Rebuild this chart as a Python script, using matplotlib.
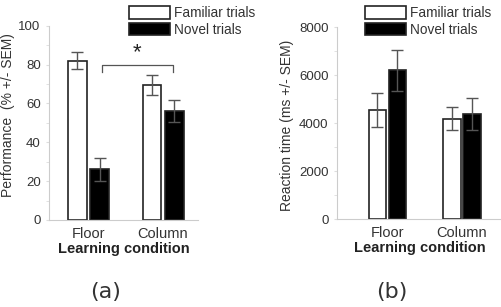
import numpy as np
from matplotlib import pyplot as plt
from matplotlib.ticker import MultipleLocator

plt.rcParams["font.family"] = ["Liberation Sans", "DejaVu Sans"]

conditions = ["Floor", "Column"]
seriesNames = ["Familiar trials", "Novel trials"]

performance = {"Familiar trials": [82, 69.5], "Novel trials": [26, 56]}
performanceSem = {"Familiar trials": [4.5, 5.2], "Novel trials": [6, 5.7]}

reactionTime = {"Familiar trials": [4550, 4180], "Novel trials": [6200, 4370]}
reactionTimeSem = {"Familiar trials": [700, 480], "Novel trials": [850, 660]}

TEXT = "#333333"


def drawBars(axis, values, sems, offset=0.15, width=0.25):
    centers = np.arange(1, len(conditions) + 1)
    for i, name in enumerate(seriesNames):
        face = "white" if i == 0 else "black"
        axis.bar(centers + (i - 0.5) * 2 * offset, values[name], width,
                 yerr=sems[name], color=face, edgecolor="#222222", linewidth=1.2,
                 label=name, error_kw=dict(ecolor="#555555", elinewidth=1.0, capsize=4, capthick=1.0))
    axis.set_xticks(centers)
    axis.set_xticklabels(conditions, fontsize=10.5, color=TEXT)
    axis.set_xlabel("Learning condition", fontsize=10.5, fontweight="bold", color="#222222", labelpad=1)


def styleAxis(axis):
    for side in ["top", "right"]:
        axis.spines[side].set_visible(False)
    axis.spines["left"].set_color("#cccccc")
    axis.spines["bottom"].set_color("#cccccc")
    axis.tick_params(axis="x", length=0, pad=5)
    axis.tick_params(axis="y", which="both", colors="#dddddd", labelcolor=TEXT, labelsize=9.5, length=2.5)


def addLegend(axis, left):
    axis.legend(loc="upper left", bbox_to_anchor=(left, 1.003), bbox_transform=figure.transFigure,
                frameon=False, fontsize=9.8, handlelength=3.0, handleheight=1.05,
                handletextpad=0.3, labelspacing=0.2, borderpad=0, labelcolor=TEXT)


figure = plt.figure(figsize=(5.02, 3.07), dpi=100)

axisA = figure.add_axes([0.0976, 0.2834, 0.297, 0.633])
drawBars(axisA, performance, performanceSem)
axisA.set_xlim(0.47, 2.47)
axisA.set_ylim(0, 100)
axisA.yaxis.set_major_locator(MultipleLocator(20))
axisA.yaxis.set_minor_locator(MultipleLocator(10))
axisA.set_ylabel("Performance  (% +/- SEM)", fontsize=10, color=TEXT)
axisA.yaxis.set_label_coords(-0.225, 0.54)
styleAxis(axisA)
axisA.plot([1.18, 1.18, 2.13, 2.13], [76, 80, 80, 76], color="#555555", linewidth=0.9)
axisA.text(1.655, 80.5, "*", ha="center", va="bottom", fontsize=16, color="#222222")
addLegend(axisA, 0.243)

axisB = figure.add_axes([0.671, 0.2866, 0.329, 0.625])
drawBars(axisB, reactionTime, reactionTimeSem, offset=0.135, width=0.235)
axisB.set_xlim(0.322, 2.537)
axisB.set_ylim(0, 8000)
axisB.yaxis.set_major_locator(MultipleLocator(2000))
axisB.yaxis.set_minor_locator(MultipleLocator(1000))
axisB.set_ylabel("Reaction time (ms +/- SEM)", fontsize=10, color=TEXT)
axisB.yaxis.set_label_coords(-0.26, 0.49)
styleAxis(axisB)
addLegend(axisB, 0.713)

figure.text(0.211, 0.05, "(a)", ha="center", va="center", fontsize=16, color=TEXT, family="DejaVu Sans")
figure.text(0.781, 0.05, "(b)", ha="center", va="center", fontsize=16, color=TEXT, family="DejaVu Sans")

figure.savefig("out.png", dpi=100)
